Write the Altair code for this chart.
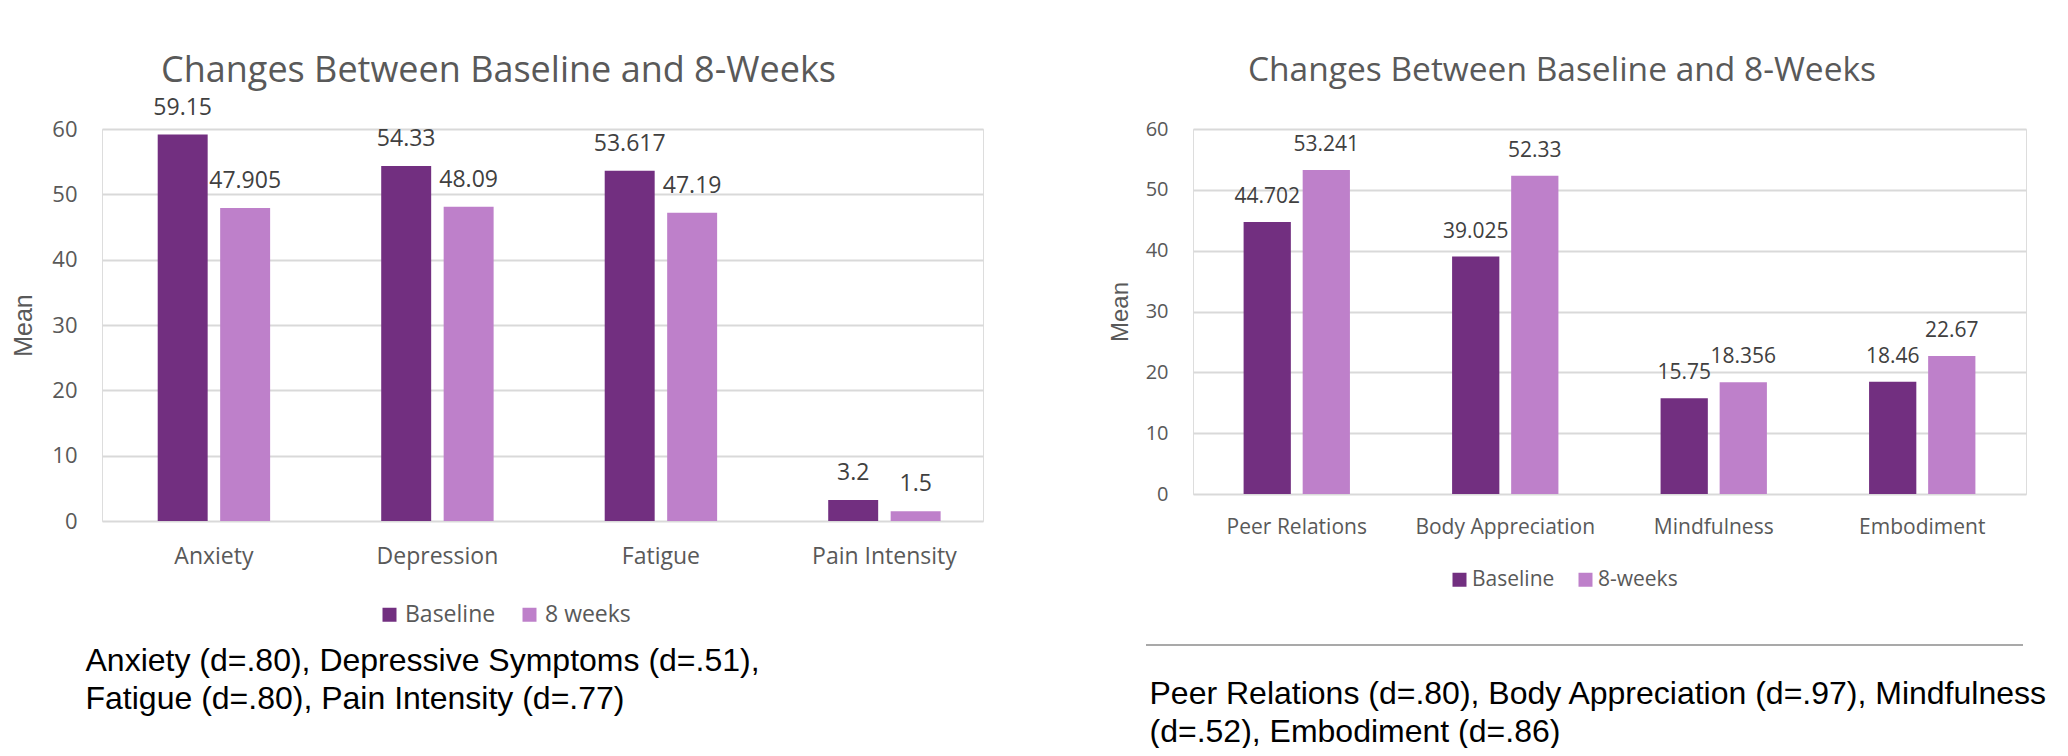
import altair as alt
import pandas as pd

# ---------------- data ----------------
left_categories = ["Anxiety", "Depression", "Fatigue", "Pain Intensity"]
left_baseline = [59.15, 54.33, 53.617, 3.2]
left_8weeks = [47.905, 48.09, 47.19, 1.5]
left_series = ["Baseline", "8 weeks"]

right_categories = ["Peer Relations", "Body Appreciation", "Mindfulness", "Embodiment"]
right_baseline = [44.702, 39.025, 15.75, 18.46]
right_8weeks = [53.241, 52.33, 18.356, 22.67]
right_series = ["Baseline", "8-weeks"]

y_ticks = [0, 10, 20, 30, 40, 50, 60]
chart_title = "Changes Between Baseline and 8-Weeks"
left_note = ["Anxiety (d=.80), Depressive Symptoms (d=.51),",
             "Fatigue (d=.80), Pain Intensity (d=.77)"]
right_note = ["Peer Relations (d=.80), Body Appreciation (d=.97), Mindfulness",
              "(d=.52), Embodiment (d=.86)"]

DARK = "#722F80"
LIGHT = "#BE80CA"
GRAY = "#595959"


def build_df(cats, base, wk, series):
    rows = []
    for c, b, w in zip(cats, base, wk):
        rows.append({"category": c, "series": series[0], "value": b, "label": str(b)})
        rows.append({"category": c, "series": series[1], "value": w, "label": str(w)})
    return pd.DataFrame(rows)


def panel(cats, base, wk, series, note, width, height, align, p_inner, p_outer,
          title_size, title_dx, title_offset, ylab_size, xlab_size, xlab_pad, val_size,
          val_dy, mean_size, mean_pad, leg_x, leg_y, leg_size, leg_offset, leg_colpad,
          note_x, note_y, note_lh, extra=None):
    df = build_df(cats, base, wk, series)
    x = alt.X("category:N", sort=cats,
              scale=alt.Scale(paddingInner=p_inner, paddingOuter=p_outer, align=align),
              axis=alt.Axis(title=note, titleX=note_x, titleY=note_y, titleAlign="left",
                            titleBaseline="alphabetic", titleFont="Liberation Sans",
                            titleFontSize=32, titleFontWeight="normal", titleColor="black",
                            titleLineHeight=note_lh, labelFont="Open Sans",
                            labelFontSize=xlab_size, labelColor=GRAY, labelPadding=xlab_pad,
                            labelAngle=0, ticks=False, domain=False, grid=False))
    xo = alt.XOffset("series:N", sort=series,
                     scale=alt.Scale(domain=series, paddingInner=0.2, paddingOuter=0))
    y = alt.Y("value:Q", scale=alt.Scale(domain=[0, 60], nice=False),
              axis=alt.Axis(values=y_ticks, title="Mean", titleFont="Liberation Sans",
                            titleFontSize=mean_size, titleFontWeight="normal",
                            titleColor=GRAY, titlePadding=mean_pad, labelFont="Open Sans",
                            labelFontSize=ylab_size, labelColor=GRAY, labelPadding=25,
                            ticks=False, domain=False, gridColor="#D9D9D9", gridWidth=2))
    color = alt.Color("series:N", sort=series,
                      scale=alt.Scale(domain=series, range=[DARK, LIGHT]),
                      legend=alt.Legend(title=None, orient="none", legendX=leg_x,
                                        legendY=leg_y, direction="horizontal",
                                        symbolType="square", symbolSize=196,
                                        symbolStrokeWidth=0, labelFont="Open Sans",
                                        labelFontSize=leg_size, labelColor=GRAY,
                                        labelOffset=leg_offset, columnPadding=leg_colpad,
                                        padding=0))
    bars = alt.Chart(df).mark_bar().encode(x=x, xOffset=xo, y=y, color=color)
    labels = alt.Chart(df).mark_text(dy=val_dy, baseline="alphabetic", font="Open Sans",
                                     fontSize=val_size, color="#404040").encode(
        x=x, xOffset=xo, y=y, text="label:N")
    layers = [bars, labels]
    if extra is not None:
        layers.append(extra)
    return alt.layer(*layers).properties(
        width=width, height=height,
        title=alt.TitleParams(chart_title, font="Open Sans", fontSize=title_size,
                              fontWeight="normal", color=GRAY, anchor="middle",
                              frame="group", dx=title_dx, offset=title_offset))


left = panel(left_categories, left_baseline, left_8weeks, left_series, left_note,
             width=881, height=392, align=0.568, p_inner=0.497, p_outer=0.2194,
             title_size=36, title_dx=-44, title_offset=7, ylab_size=22, xlab_size=23,
             xlab_pad=24, val_size=23, val_dy=-20, mean_size=25, mean_pad=15,
             leg_x=276, leg_y=474, leg_size=23, leg_offset=4, leg_colpad=22,
             note_x=-17, note_y=149, note_lh=38)

sep = alt.Chart(pd.DataFrame({"k": [0]})).mark_rule(color="#8C8C8C", strokeWidth=1.5).encode(
    x=alt.value(-47), x2=alt.value(830), y=alt.value(516))

right = panel(right_categories, right_baseline, right_8weeks, right_series, right_note,
              width=833, height=365, align=0.5, p_inner=0.49, p_outer=0.2427,
              title_size=33.5, title_dx=-47.5, title_offset=31, ylab_size=20, xlab_size=21,
              xlab_pad=22, val_size=21, val_dy=-19, mean_size=24, mean_pad=13,
              leg_x=256, leg_y=440, leg_size=21, leg_offset=2, leg_colpad=20,
              note_x=-44, note_y=209, note_lh=38, extra=sep)

chart = alt.hconcat(left, right, spacing=210, bounds="flush").resolve_scale(
    x="independent", y="independent", color="independent", xOffset="independent"
).resolve_legend(color="independent").properties(
    padding={"left": 3, "top": 44, "right": 0, "bottom": 0}
).configure_view(stroke=None).configure(background="white")

chart.save("out.html", embed_options={"renderer": "svg", "actions": False})
